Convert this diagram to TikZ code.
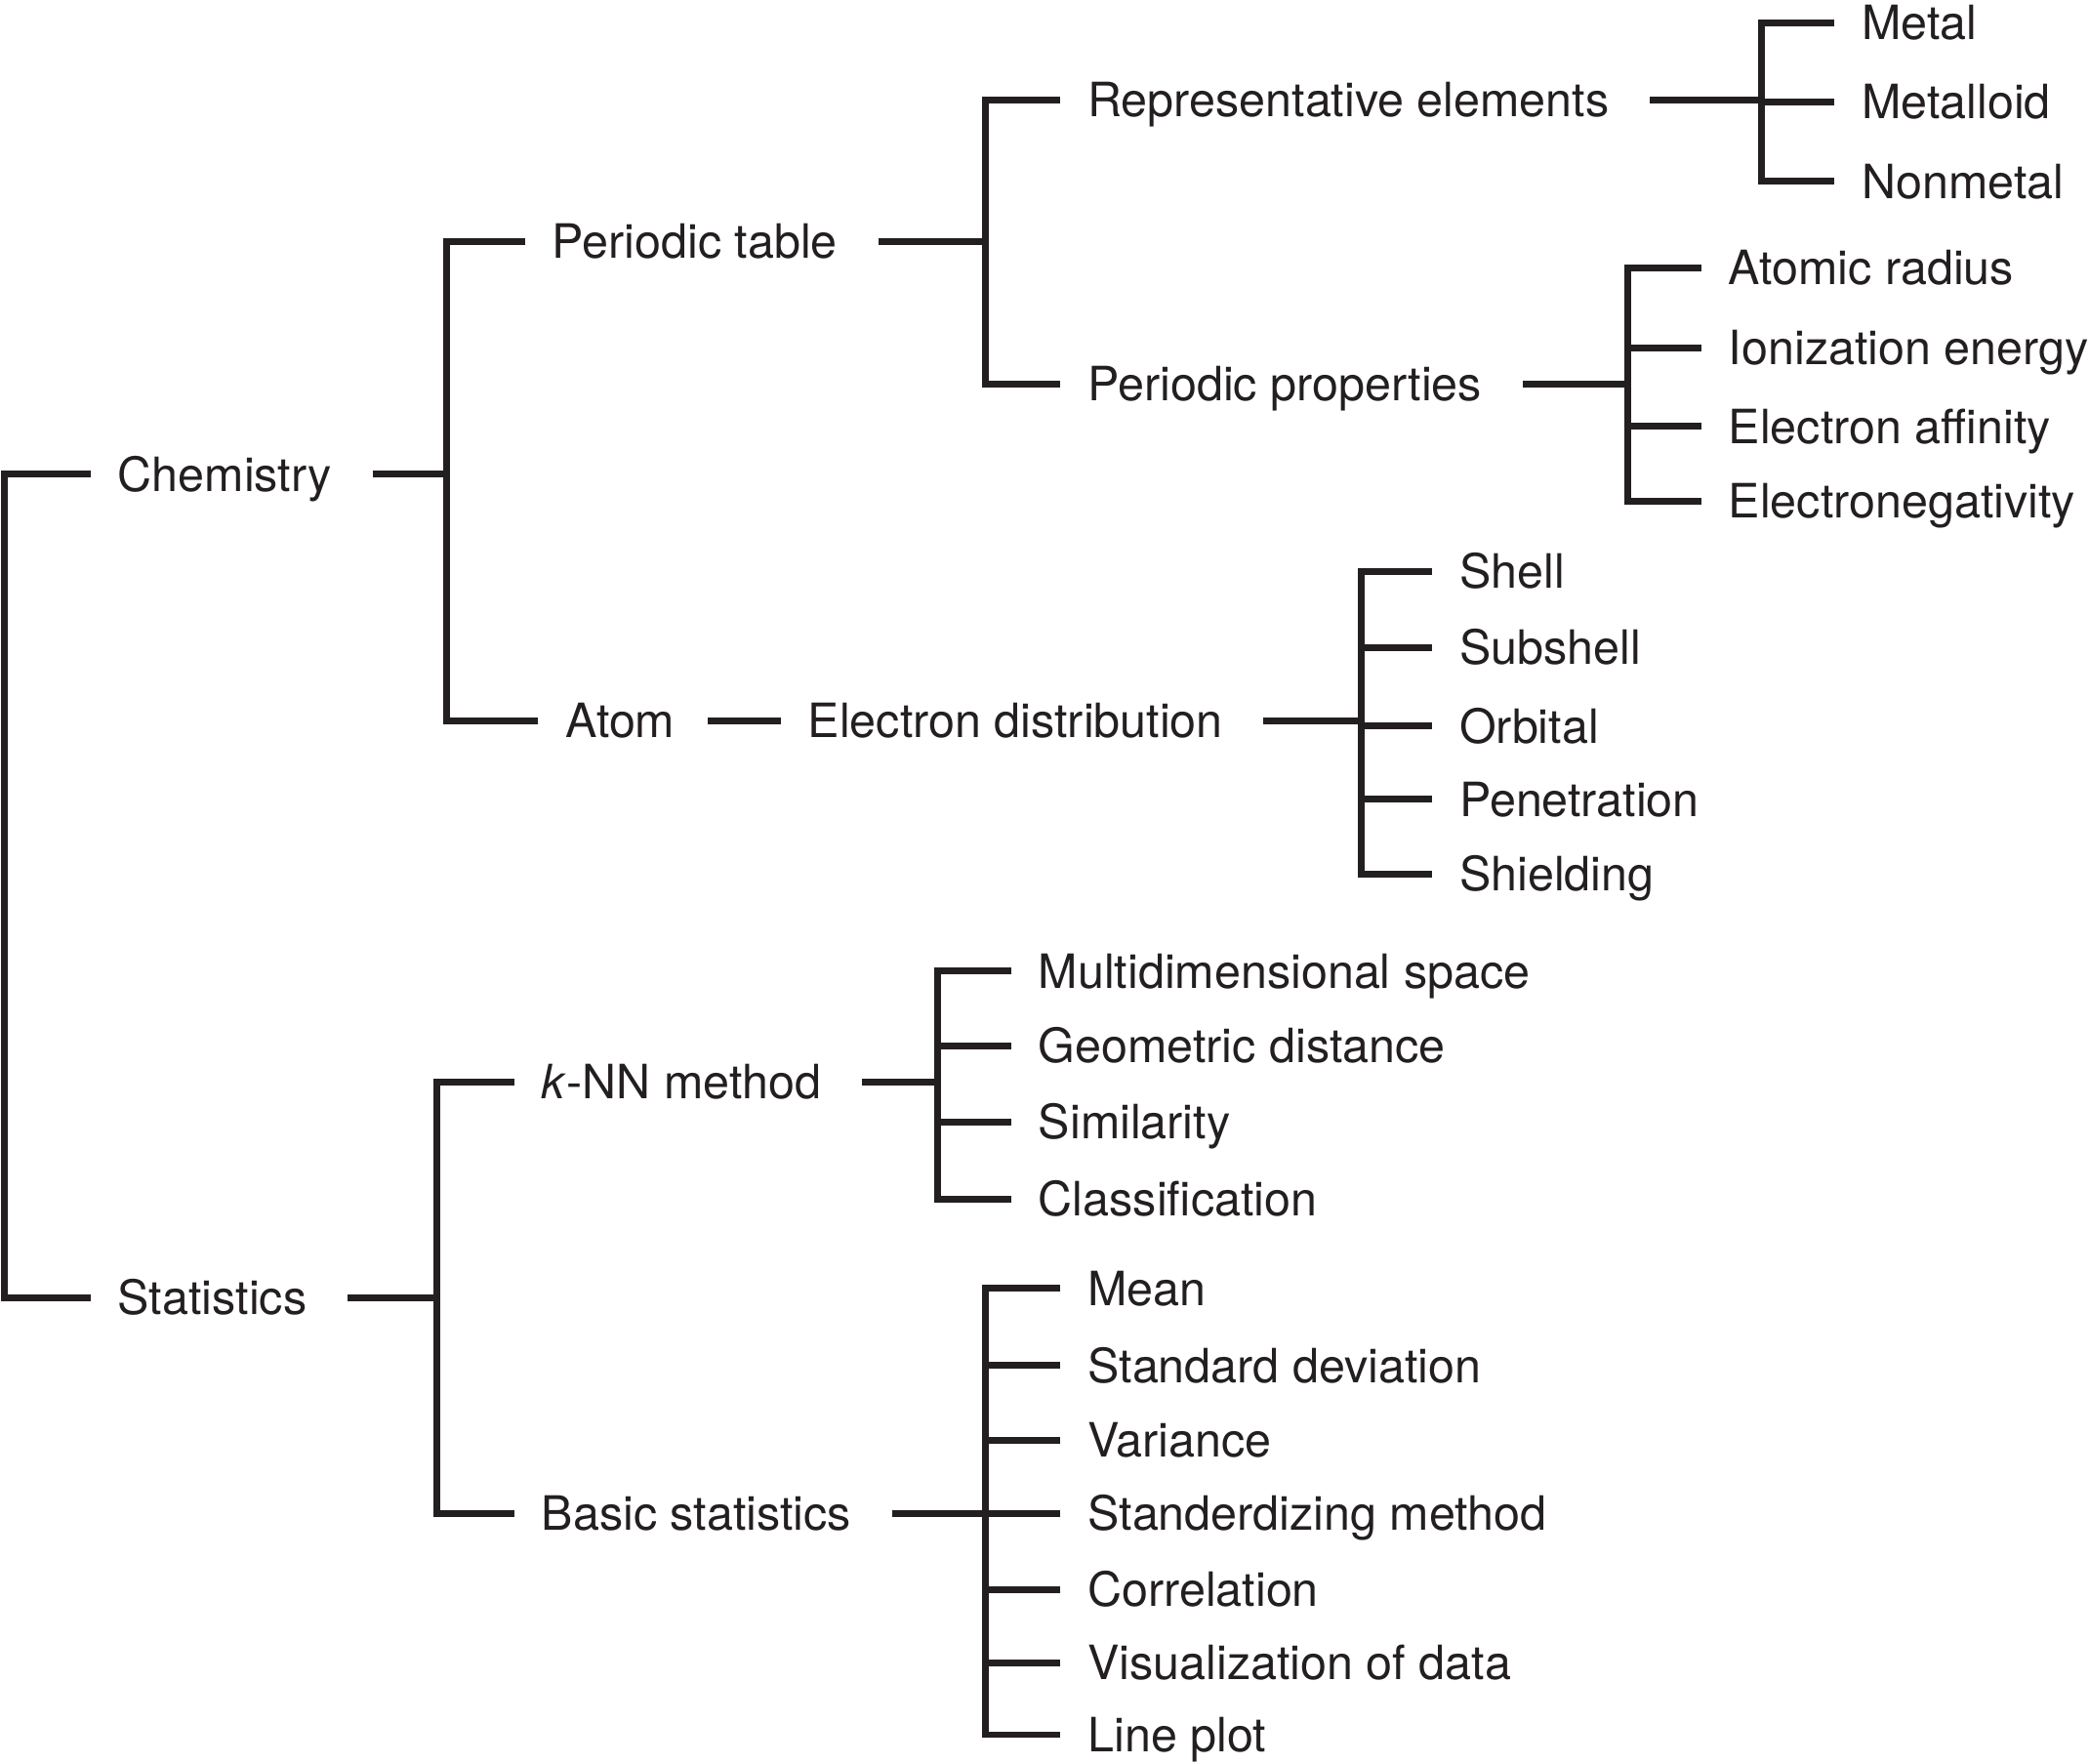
\documentclass[tikz,border=0pt]{standalone}
\usepackage{fontspec}
\setmainfont{TeX Gyre Heros}
\usepackage{tikz}
\usetikzlibrary{positioning}
\definecolor{ink}{HTML}{231F20}

\begin{document}
\begin{tikzpicture}[x=0.5pt,y=-0.5pt,font=\fontsize{17.75}{21}\selectfont,line width=2.55pt,color=ink]
            \tikzstyle{term}=[anchor=west,inner xsep=9pt,inner ysep=0pt,text height=12.75pt,text depth=0pt]
            \tikzstyle{stem}=[shorten <=5pt]
            \useasboundingbox (0,0) rectangle (1568,1323.3);
            % junction columns
            \coordinate (jroot) at (3,0);
            \coordinate (jchem) at (335,0);
            \coordinate (jptab) at (740,0);
            \coordinate (jrep) at (1322,0);
            \coordinate (jprop) at (1222,0);
            \coordinate (jdist) at (1022,0);
            \coordinate (jstat) at (328,0);
            \coordinate (jknn) at (704,0);
            \coordinate (jbas) at (740,0);
            % main terms
            \node[term] (chem) at (68,356) {Chemistry};
            \node[term] (stat) at (68,974) {Statistics};
            \node[term] (ptab) at (394,181) {Periodic table};
            \node[term] (atom) at (404,541) {Atom};
            \node[term] (rep) at (796,75) {Representative elements};
            \node[term] (prop) at (796,288) {Periodic properties};
            \node[term] (dist) at (586,541) {Electron distribution};
            \node[term] (knn) at (386,812) {\textit{k}-NN method};
            \node[term] (bas) at (386,1136) {Basic statistics};
            % leaves
            \foreach \t/\y [count=\i] in {Metal/17,Metalloid/76.5,Nonmetal/136}
              \node[term] (re\i) at (1377,\y) {\t};
            \foreach \t/\y [count=\i] in {Atomic radius/201,Ionization energy/261,Electron affinity/320,Electronegativity/376}
              \node[term] (pp\i) at (1277,\y) {\t};
            \foreach \t/\y [count=\i] in {Shell/429,Subshell/486,Orbital/545,Penetration/600,Shielding/656}
              \node[term] (ed\i) at (1075,\y) {\t};
            \foreach \t/\y [count=\i] in {Multidimensional space/729,Geometric distance/785,Similarity/842,Classification/900}
              \node[term] (kn\i) at (759,\y) {\t};
            \foreach \t/\y [count=\i] in {Mean/967,Standard deviation/1025,Variance/1081,Standerdizing method/1136,Correlation/1193,Visualization of data/1248,Line plot/1302}
              \node[term] (bs\i) at (796,\y) {\t};
            % root bracket
            \draw (chem.west) -- (chem.west -| jroot) -- (stat.west -| jroot) -- (stat.west);
            % chemistry
            \draw[stem] (chem.east) -- (chem.east -| jchem);
            \draw (ptab.west) -- (ptab.west -| jchem) -- (atom.west -| jchem) -- (atom.west);
            \draw[stem] (ptab.east) -- (ptab.east -| jptab);
            \draw (rep.west) -- (rep.west -| jptab) -- (prop.west -| jptab) -- (prop.west);
            \draw[stem] (rep.east) -- (rep.east -| jrep);
            \draw (re1.west) -- (re1.west -| jrep) -- (re3.west -| jrep) -- (re3.west);
            \draw (re2.west) -- (re2.west -| jrep);
            \draw[stem] (prop.east) -- (prop.east -| jprop);
            \draw (pp1.west) -- (pp1.west -| jprop) -- (pp4.west -| jprop) -- (pp4.west);
            \foreach \i in {2,3} \draw (pp\i.west) -- (pp\i.west -| jprop);
            \draw[shorten <=2pt] (atom.east) -- (dist.west);
            \draw[stem] (dist.east) -- (dist.east -| jdist);
            \draw (ed1.west) -- (ed1.west -| jdist) -- (ed5.west -| jdist) -- (ed5.west);
            \foreach \i in {2,3,4} \draw (ed\i.west) -- (ed\i.west -| jdist);
            % statistics
            \draw[stem] (stat.east) -- (stat.east -| jstat);
            \draw (knn.west) -- (knn.west -| jstat) -- (bas.west -| jstat) -- (bas.west);
            \draw[stem] (knn.east) -- (knn.east -| jknn);
            \draw (kn1.west) -- (kn1.west -| jknn) -- (kn4.west -| jknn) -- (kn4.west);
            \foreach \i in {2,3} \draw (kn\i.west) -- (kn\i.west -| jknn);
            \draw[stem] (bas.east) -- (bas.east -| jbas);
            \draw (bs1.west) -- (bs1.west -| jbas) -- (bs7.west -| jbas) -- (bs7.west);
            \foreach \i in {2,...,6} \draw (bs\i.west) -- (bs\i.west -| jbas);
          \end{tikzpicture}
\end{document}
